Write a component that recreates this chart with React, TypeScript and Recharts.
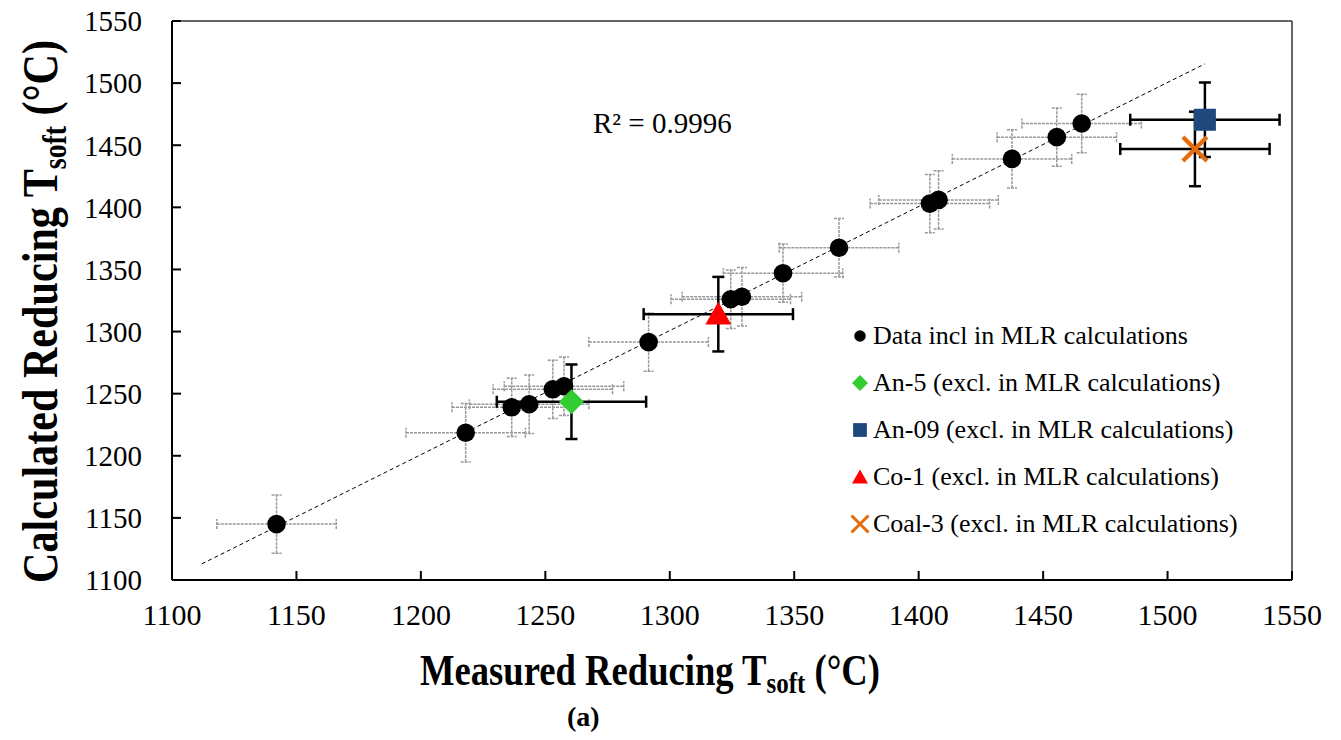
import { ScatterChart, Scatter, XAxis, YAxis, ErrorBar, Legend, ReferenceLine } from 'recharts';

const FONT = 'Liberation Serif';

// axis ticks (same scale on both axes)
const axisTicks = [1100, 1150, 1200, 1250, 1300, 1350, 1400, 1450, 1500, 1550];

// samples included in the MLR fit
const inclX = [1142, 1218, 1236.5, 1243.5, 1253, 1257.5, 1291.5, 1324.5, 1329, 1345.5, 1368, 1404.5, 1408, 1437.5, 1455.5, 1465.5];
const inclY = [1145, 1218.5, 1239, 1241.5, 1253.5, 1256, 1291.5, 1326, 1328, 1347, 1367.5, 1403, 1406, 1439, 1456.5, 1467.5];
const inclErrX = [24, 24, 24, 24, 24, 24, 24, 24, 24, 24, 24, 24, 24, 24, 24, 24];
const inclErrY = [23.5, 23.5, 23.5, 23.5, 23.5, 23.5, 23.5, 23.5, 23.5, 23.5, 23.5, 23.5, 23.5, 23.5, 23.5, 23.5];

// samples left out of the fit: An-5, An-09, Co-1, Coal-3
const exclX = [1260.5, 1515, 1319.5, 1511];
const exclY = [1243.5, 1470.5, 1314, 1447];
const exclErrX = [30, 30, 30, 30];
const exclErrY = [30, 30, 30, 30];

// linear trend line
const trendX = [1112, 1515];
const trendY = [1113, 1515.5];

const legendLabels = [
  'Data incl in MLR calculations',
  'An-5 (excl. in MLR calculations)',
  'An-09 (excl. in MLR calculations)',
  'Co-1 (excl. in MLR calculations)',
  'Coal-3 (excl. in MLR calculations)',
];

const included = inclX.map((x, i) => ({ x, y: inclY[i], ex: inclErrX[i], ey: inclErrY[i] }));
const excluded = exclX.map((x, i) => ({ x, y: exclY[i], ex: exclErrX[i], ey: exclErrY[i] }));
const trend = trendX.map((x, i) => ({ x, y: trendY[i] }));

const GREEN = '#33CC33';
const BLUE = '#1F497D';
const RED = '#FF0000';
const ORANGE = '#E46C0A';

type Kind = 'circle' | 'diamond' | 'square' | 'triangle' | 'cross';
const kinds: Kind[] = ['circle', 'diamond', 'square', 'triangle', 'cross'];

function Marker({ kind, cx, cy, s }: { kind: Kind; cx: number; cy: number; s: number }) {
  switch (kind) {
    case 'circle':
      return <circle cx={cx} cy={cy} r={s * 0.72} fill="#000" />;
    case 'diamond':
      return (
        <polygon
          points={`${cx},${cy - s} ${cx + s},${cy} ${cx},${cy + s} ${cx - s},${cy}`}
          fill={GREEN}
        />
      );
    case 'square':
      return <rect x={cx - s * 0.86} y={cy - s * 0.86} width={s * 1.72} height={s * 1.72} fill={BLUE} />;
    case 'triangle':
      return (
        <polygon
          points={`${cx},${cy - s * 0.95} ${cx + s},${cy + s * 0.8} ${cx - s},${cy + s * 0.8}`}
          fill={RED}
        />
      );
    default:
      return (
        <g stroke={ORANGE} strokeWidth={s * 0.36}>
          <line x1={cx - s} y1={cy - s} x2={cx + s} y2={cy + s} />
          <line x1={cx - s} y1={cy + s} x2={cx + s} y2={cy - s} />
        </g>
      );
  }
}

const renderLegend = () => (
  <div style={{ fontFamily: FONT, fontSize: 26, color: '#000' }}>
    {legendLabels.map((label, i) => (
      <div key={label} style={{ display: 'flex', alignItems: 'center', height: 46.8, whiteSpace: 'nowrap' }}>
        <svg width={20} height={20} style={{ marginRight: 3 }}>
          <Marker kind={kinds[i]} cx={10} cy={10} s={i === 4 ? 8.5 : 8} />
        </svg>
        <span>{label}</span>
      </div>
    ))}
  </div>
);

const greyBar = { stroke: '#999', strokeWidth: 1.5, strokeDasharray: '3 1', width: 5 };
const blackBar = { stroke: '#000', strokeWidth: 2.5, width: 6 };

export default function App() {
  return (
    <div style={{ position: 'relative', width: 1325, height: 724, fontFamily: FONT }}>
      <ScatterChart width={1325} height={724} margin={{ top: 13, right: 41, bottom: 0, left: 0 }}>
        <XAxis
          type="number"
          dataKey="x"
          domain={[1100, 1550]}
          ticks={axisTicks}
          interval={0}
          allowDataOverflow
          height={152}
          tickSize={-9}
          tickMargin={33}
          axisLine={{ stroke: '#000', strokeWidth: 2 }}
          tickLine={{ stroke: '#000', strokeWidth: 2 }}
          tick={{ fontFamily: FONT, fontSize: 30, fill: '#000' }}
        />
        <YAxis
          type="number"
          dataKey="y"
          domain={[1100, 1550]}
          ticks={axisTicks}
          interval={0}
          allowDataOverflow
          width={164}
          tickSize={-9}
          tickMargin={39}
          axisLine={{ stroke: '#000', strokeWidth: 2 }}
          tickLine={{ stroke: '#000', strokeWidth: 2 }}
          tick={{ fontFamily: FONT, fontSize: 29, fill: '#000' }}
        />
        <ReferenceLine y={1550} stroke="#333" strokeWidth={1.5} />
        <ReferenceLine x={1550} stroke="#333" strokeWidth={1.5} />

        <Scatter
          data={trend}
          isAnimationActive={false}
          line={{ stroke: '#000', strokeWidth: 1, strokeDasharray: '4 3' }}
          shape={() => <g />}
          legendType="none"
        />

        <Scatter data={included} isAnimationActive={false} shape={(p: any) => <Marker kind="circle" cx={p.cx} cy={p.cy} s={12.9} />}>
          <ErrorBar dataKey="ex" direction="x" {...greyBar} />
          <ErrorBar dataKey="ey" direction="y" {...greyBar} />
        </Scatter>

        {excluded.map((d, i) => (
          <Scatter
            key={i}
            data={[d]}
            isAnimationActive={false}
            shape={(p: any) => <Marker kind={kinds[i + 1]} cx={p.cx} cy={p.cy} s={[12.5, 12.8, 13, 12][i]} />}
          >
            <ErrorBar dataKey="ex" direction="x" {...blackBar} />
            <ErrorBar dataKey="ey" direction="y" {...blackBar} />
          </Scatter>
        ))}

        <Legend
          layout="vertical"
          align="center"
          verticalAlign="middle"
          content={renderLegend}
          wrapperStyle={{ left: 842, top: 305, width: 430 }}
        />
      </ScatterChart>

      <svg
        width={1325}
        height={724}
        style={{ position: 'absolute', left: 0, top: 0, pointerEvents: 'none' }}
        fontFamily={FONT}
      >
        <text x={585} y={125} fontSize={29} fill="#000">
          R² = 0.9996
        </text>
        <text x={412} y={677} fontSize={44} fontWeight="bold" fill="#000" textLength={460} lengthAdjust="spacingAndGlyphs">
          Measured Reducing T<tspan fontSize={30} dy={8}>soft</tspan>
          <tspan dy={-8}> (°C)</tspan>
        </text>
        <text
          x={303.5}
          y={49}
          transform="rotate(-90 303.5 303.5)"
          fontSize={50}
          fontWeight="bold"
          fill="#000"
          textAnchor="middle"
          textLength={543}
          lengthAdjust="spacingAndGlyphs"
        >
          Calculated Reducing T<tspan fontSize={33} dy={9}>soft</tspan>
          <tspan dy={-9}> (°C)</tspan>
        </text>
        <text x={559} y={718} fontSize={28} fontWeight="bold" fill="#000">
          (a)
        </text>
      </svg>
    </div>
  );
}
